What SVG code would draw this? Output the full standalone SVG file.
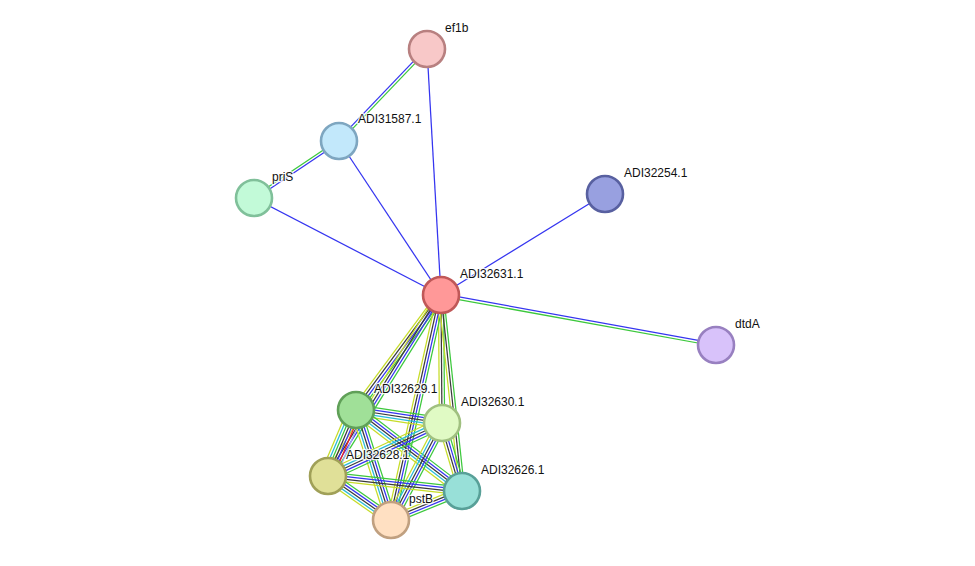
<svg xmlns="http://www.w3.org/2000/svg" width="975" height="566" viewBox="0 0 975 566">
<style>
line{stroke-width:1.25;fill:none}
.g{stroke:#3cc83c}.b{stroke:#3535f0}.k{stroke:#3a3a3a}.y{stroke:#c6dc28}.c{stroke:#28bcd8}.r{stroke:#f02020}.l{stroke:#a8a8f4}
circle{stroke-width:2.6}
text{font-family:"Liberation Sans",Arial,sans-serif;font-size:12px;fill:#111;stroke:#ffffff;stroke-width:2.5;stroke-opacity:0.85;paint-order:stroke;stroke-linejoin:round}
</style>
<rect width="975" height="566" fill="#ffffff"/>
<g id="connectors">
<line class="b" x1="441" y1="295" x2="427" y2="49"/>
<line class="b" x1="441" y1="295" x2="339" y2="141"/>
<line class="b" x1="441" y1="295" x2="254" y2="198"/>
<line class="b" x1="441" y1="295" x2="605" y2="194"/>
<g transform="translate(441 295) rotate(10.30)"><line class="b" x2="279.5" y1="-1.3" y2="-1.3"/><line class="g" x2="279.5" y1="1.3" y2="1.3"/></g>
<g transform="translate(339 141) rotate(-46.27)"><line class="b" x2="127.3" y1="-1.3" y2="-1.3"/><line class="g" x2="127.3" y1="1.3" y2="1.3"/></g>
<g transform="translate(339 141) rotate(146.15)"><line class="b" x2="102.3" y1="-1.3" y2="-1.3"/><line class="g" x2="102.3" y1="1.3" y2="1.3"/></g>
<g transform="translate(441 295) rotate(126.47)"><line class="g" x2="143" y1="-3.9" y2="-3.9"/><line class="b" x2="143" y1="-1.3" y2="-1.3"/><line class="k" x2="143" y1="1.3" y2="1.3"/><line class="y" x2="143" y1="3.9" y2="3.9"/></g>
<g transform="translate(441 295) rotate(121.97)"><line class="g" x2="213.4" y1="-3.9" y2="-3.9"/><line class="b" x2="213.4" y1="-1.3" y2="-1.3"/><line class="k" x2="213.4" y1="1.3" y2="1.3"/><line class="y" x2="213.4" y1="3.9" y2="3.9"/></g>
<g transform="translate(441 295) rotate(89.55)"><line class="g" x2="128" y1="-2.6" y2="-2.6"/><line class="k" x2="128" y1="0" y2="0"/><line class="y" x2="128" y1="2.6" y2="2.6"/></g>
<g transform="translate(441 295) rotate(102.53)"><line class="g" x2="230.5" y1="-3.9" y2="-3.9"/><line class="b" x2="230.5" y1="-1.3" y2="-1.3"/><line class="k" x2="230.5" y1="1.3" y2="1.3"/><line class="y" x2="230.5" y1="3.9" y2="3.9"/></g>
<g transform="translate(441 295) rotate(83.88)"><line class="g" x2="197.1" y1="-2.6" y2="-2.6"/><line class="k" x2="197.1" y1="0" y2="0"/><line class="y" x2="197.1" y1="2.6" y2="2.6"/></g>
<g transform="translate(356 410) rotate(8.60)"><line class="g" x2="87" y1="-5.2" y2="-5.2"/><line class="b" x2="87" y1="-2.6" y2="-2.6"/><line class="k" x2="87" y1="0" y2="0"/><line class="c" x2="87" y1="2.6" y2="2.6"/><line class="y" x2="87" y1="5.2" y2="5.2"/></g>
<g transform="translate(356 410) rotate(112.99)"><line class="l" x2="71.7" y1="-7.8" y2="-7.8"/><line class="r" x2="71.7" y1="-5.2" y2="-5.2"/><line class="b" x2="71.7" y1="-2.6" y2="-2.6"/><line class="k" x2="71.7" y1="0" y2="0"/><line class="g" x2="71.7" y1="2.6" y2="2.6"/><line class="c" x2="71.7" y1="5.2" y2="5.2"/><line class="y" x2="71.7" y1="7.8" y2="7.8"/></g>
<g transform="translate(356 410) rotate(37.39)"><line class="g" x2="133.4" y1="-5.2" y2="-5.2"/><line class="b" x2="133.4" y1="-2.6" y2="-2.6"/><line class="k" x2="133.4" y1="0" y2="0"/><line class="c" x2="133.4" y1="2.6" y2="2.6"/><line class="y" x2="133.4" y1="5.2" y2="5.2"/></g>
<g transform="translate(356 410) rotate(72.35)"><line class="g" x2="115.4" y1="-5.2" y2="-5.2"/><line class="b" x2="115.4" y1="-2.6" y2="-2.6"/><line class="k" x2="115.4" y1="0" y2="0"/><line class="c" x2="115.4" y1="2.6" y2="2.6"/><line class="y" x2="115.4" y1="5.2" y2="5.2"/></g>
<g transform="translate(442 423) rotate(155.07)"><line class="g" x2="125.7" y1="-5.2" y2="-5.2"/><line class="b" x2="125.7" y1="-2.6" y2="-2.6"/><line class="k" x2="125.7" y1="0" y2="0"/><line class="c" x2="125.7" y1="2.6" y2="2.6"/><line class="y" x2="125.7" y1="5.2" y2="5.2"/></g>
<g transform="translate(442 423) rotate(73.61)"><line class="g" x2="70.9" y1="-3.9" y2="-3.9"/><line class="b" x2="70.9" y1="-1.3" y2="-1.3"/><line class="k" x2="70.9" y1="1.3" y2="1.3"/><line class="y" x2="70.9" y1="3.9" y2="3.9"/></g>
<g transform="translate(442 423) rotate(117.73)"><line class="g" x2="109.6" y1="-5.2" y2="-5.2"/><line class="b" x2="109.6" y1="-2.6" y2="-2.6"/><line class="k" x2="109.6" y1="0" y2="0"/><line class="c" x2="109.6" y1="2.6" y2="2.6"/><line class="y" x2="109.6" y1="5.2" y2="5.2"/></g>
<g transform="translate(328 476) rotate(6.39)"><line class="g" x2="134.8" y1="-3.9" y2="-3.9"/><line class="b" x2="134.8" y1="-1.3" y2="-1.3"/><line class="k" x2="134.8" y1="1.3" y2="1.3"/><line class="y" x2="134.8" y1="3.9" y2="3.9"/></g>
<g transform="translate(328 476) rotate(34.93)"><line class="g" x2="76.8" y1="-5.2" y2="-5.2"/><line class="b" x2="76.8" y1="-2.6" y2="-2.6"/><line class="k" x2="76.8" y1="0" y2="0"/><line class="c" x2="76.8" y1="2.6" y2="2.6"/><line class="y" x2="76.8" y1="5.2" y2="5.2"/></g>
<g transform="translate(462 491) rotate(157.78)"><line class="g" x2="76.7" y1="-3.9" y2="-3.9"/><line class="b" x2="76.7" y1="-1.3" y2="-1.3"/><line class="k" x2="76.7" y1="1.3" y2="1.3"/><line class="y" x2="76.7" y1="3.9" y2="3.9"/></g>
</g>
<g id="n-ef1b"><circle cx="427" cy="49" r="18" fill="#f8c8c8" stroke="#b88080"/><text x="445" y="32">ef1b</text></g>
<g id="n-ADI31587.1"><circle cx="339" cy="141" r="18" fill="#c2e8fb" stroke="#7ea6c0"/><text x="358" y="123">ADI31587.1</text></g>
<g id="n-priS"><circle cx="254" cy="198" r="18" fill="#c2fad8" stroke="#80c09a"/><text x="272" y="181">priS</text></g>
<g id="n-ADI32254.1"><circle cx="605" cy="194" r="18" fill="#98a0e0" stroke="#5860a0"/><text x="624" y="177">ADI32254.1</text></g>
<g id="n-ADI32631.1"><circle cx="441" cy="295" r="18" fill="#ff9898" stroke="#c05858"/><text x="460" y="278">ADI32631.1</text></g>
<g id="n-dtdA"><circle cx="716" cy="345" r="18" fill="#d8c2fa" stroke="#9880c0"/><text x="735" y="328">dtdA</text></g>
<g id="n-ADI32629.1"><circle cx="356" cy="410" r="18" fill="#a0e098" stroke="#60a058"/><text x="374" y="393">ADI32629.1</text></g>
<g id="n-ADI32630.1"><circle cx="442" cy="423" r="18" fill="#e0fac4" stroke="#a0c080"/><text x="461" y="406">ADI32630.1</text></g>
<g id="n-ADI32628.1"><circle cx="328" cy="476" r="18" fill="#e0e098" stroke="#a0a058"/><text x="346" y="459">ADI32628.1</text></g>
<g id="n-ADI32626.1"><circle cx="462" cy="491" r="18" fill="#98e0d8" stroke="#58a098"/><text x="481" y="474">ADI32626.1</text></g>
<g id="n-pstB"><circle cx="391" cy="520" r="18" fill="#ffe0c2" stroke="#c0a080"/><text x="409" y="503">pstB</text></g>
</svg>
